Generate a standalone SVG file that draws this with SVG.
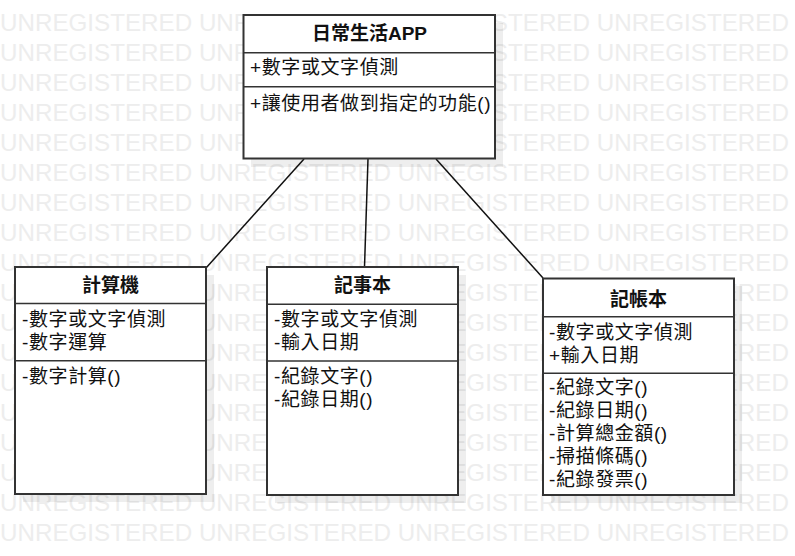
<svg xmlns="http://www.w3.org/2000/svg" xmlns:xlink="http://www.w3.org/1999/xlink" width="795" height="556" viewBox="0 0 795 556">
<style>
.wm{font-family:"Liberation Sans",Arial,sans-serif;font-size:24.2px;fill:#ededed}
.box{fill:#ffffff;stroke:#333333;stroke-width:2}
.div{stroke:#333333;stroke-width:1.5}
.sh{fill:#000000;fill-opacity:0.065}
.t{font-family:"Liberation Sans","Noto Sans CJK TC",sans-serif;font-size:19px;letter-spacing:0.6px;fill:#111111}
.ti{font-family:"Liberation Sans","Noto Sans CJK TC",sans-serif;font-size:19px;font-weight:bold;fill:#111111;text-anchor:middle}
.conn{stroke:#111111;stroke-width:1.5;fill:none}
</style>
<defs>
<text id="wm" class="wm" x="0" y="0">UNREGISTERED UNREGISTERED UNREGISTERED UNREGISTERED</text>
</defs>
<rect width="795" height="556" fill="#ffffff"/>
<g id="watermark">
<use xlink:href="#wm" y="30.5"/><use xlink:href="#wm" y="60.5"/><use xlink:href="#wm" y="90.5"/>
<use xlink:href="#wm" y="120.5"/><use xlink:href="#wm" y="150.5"/><use xlink:href="#wm" y="180.5"/>
<use xlink:href="#wm" y="210.5"/><use xlink:href="#wm" y="240.5"/><use xlink:href="#wm" y="270.5"/>
<use xlink:href="#wm" y="300.5"/><use xlink:href="#wm" y="330.5"/><use xlink:href="#wm" y="360.5"/>
<use xlink:href="#wm" y="390.5"/><use xlink:href="#wm" y="420.5"/><use xlink:href="#wm" y="450.5"/>
<use xlink:href="#wm" y="480.5"/><use xlink:href="#wm" y="510.5"/><use xlink:href="#wm" y="540.5"/>
</g>
<g id="shadows">
<rect class="sh" x="251" y="23" width="252" height="144"/>
<rect class="sh" x="23" y="275" width="191" height="227"/>
<rect class="sh" x="275" y="275" width="191" height="228"/>
<rect class="sh" x="551" y="286" width="191" height="217"/>
</g>
<g id="connectors">
<line class="conn" x1="304" y1="159" x2="206" y2="268"/>
<line class="conn" x1="368" y1="159" x2="364.5" y2="267"/>
<line class="conn" x1="436" y1="159" x2="543" y2="278"/>
</g>
<g id="app">
<rect class="box" x="243.5" y="15" width="251.5" height="143.5"/>
<line class="div" x1="243.5" y1="52.7" x2="495" y2="52.7"/>
<line class="div" x1="243.5" y1="86.7" x2="495" y2="86.7"/>
<text class="ti" x="369.5" y="39.5">日常生活APP</text>
<text class="t" x="250" y="74">+數字或文字偵測</text>
<text class="t" x="250" y="110">+讓使用者做到指定的功能()</text>
</g>
<g id="calculator">
<rect class="box" x="15" y="267" width="191" height="227"/>
<line class="div" x1="15" y1="303.5" x2="206" y2="303.5"/>
<line class="div" x1="15" y1="360.7" x2="206" y2="360.7"/>
<text class="ti" x="110.5" y="292">計算機</text>
<text class="t" x="22" y="325.5">-數字或文字偵測</text>
<text class="t" x="22" y="349">-數字運算</text>
<text class="t" x="22" y="383">-數字計算()</text>
</g>
<g id="notepad">
<rect class="box" x="267" y="267" width="191" height="228"/>
<line class="div" x1="267" y1="304.3" x2="458" y2="304.3"/>
<line class="div" x1="267" y1="361" x2="458" y2="361"/>
<text class="ti" x="362.5" y="292">記事本</text>
<text class="t" x="274" y="325.5">-數字或文字偵測</text>
<text class="t" x="274" y="349">-輸入日期</text>
<text class="t" x="274" y="383">-紀錄文字()</text>
<text class="t" x="274" y="406">-紀錄日期()</text>
</g>
<g id="ledger">
<rect class="box" x="543" y="278.5" width="191" height="216.5"/>
<line class="div" x1="543" y1="316.7" x2="734" y2="316.7"/>
<line class="div" x1="543" y1="373.3" x2="734" y2="373.3"/>
<text class="ti" x="638.5" y="305.5">記帳本</text>
<text class="t" x="549" y="339">-數字或文字偵測</text>
<text class="t" x="549" y="362">+輸入日期</text>
<text class="t" x="549" y="394">-紀錄文字()</text>
<text class="t" x="549" y="417">-紀錄日期()</text>
<text class="t" x="549" y="440">-計算總金額()</text>
<text class="t" x="549" y="463">-掃描條碼()</text>
<text class="t" x="549" y="486">-紀錄發票()</text>
</g>
</svg>
